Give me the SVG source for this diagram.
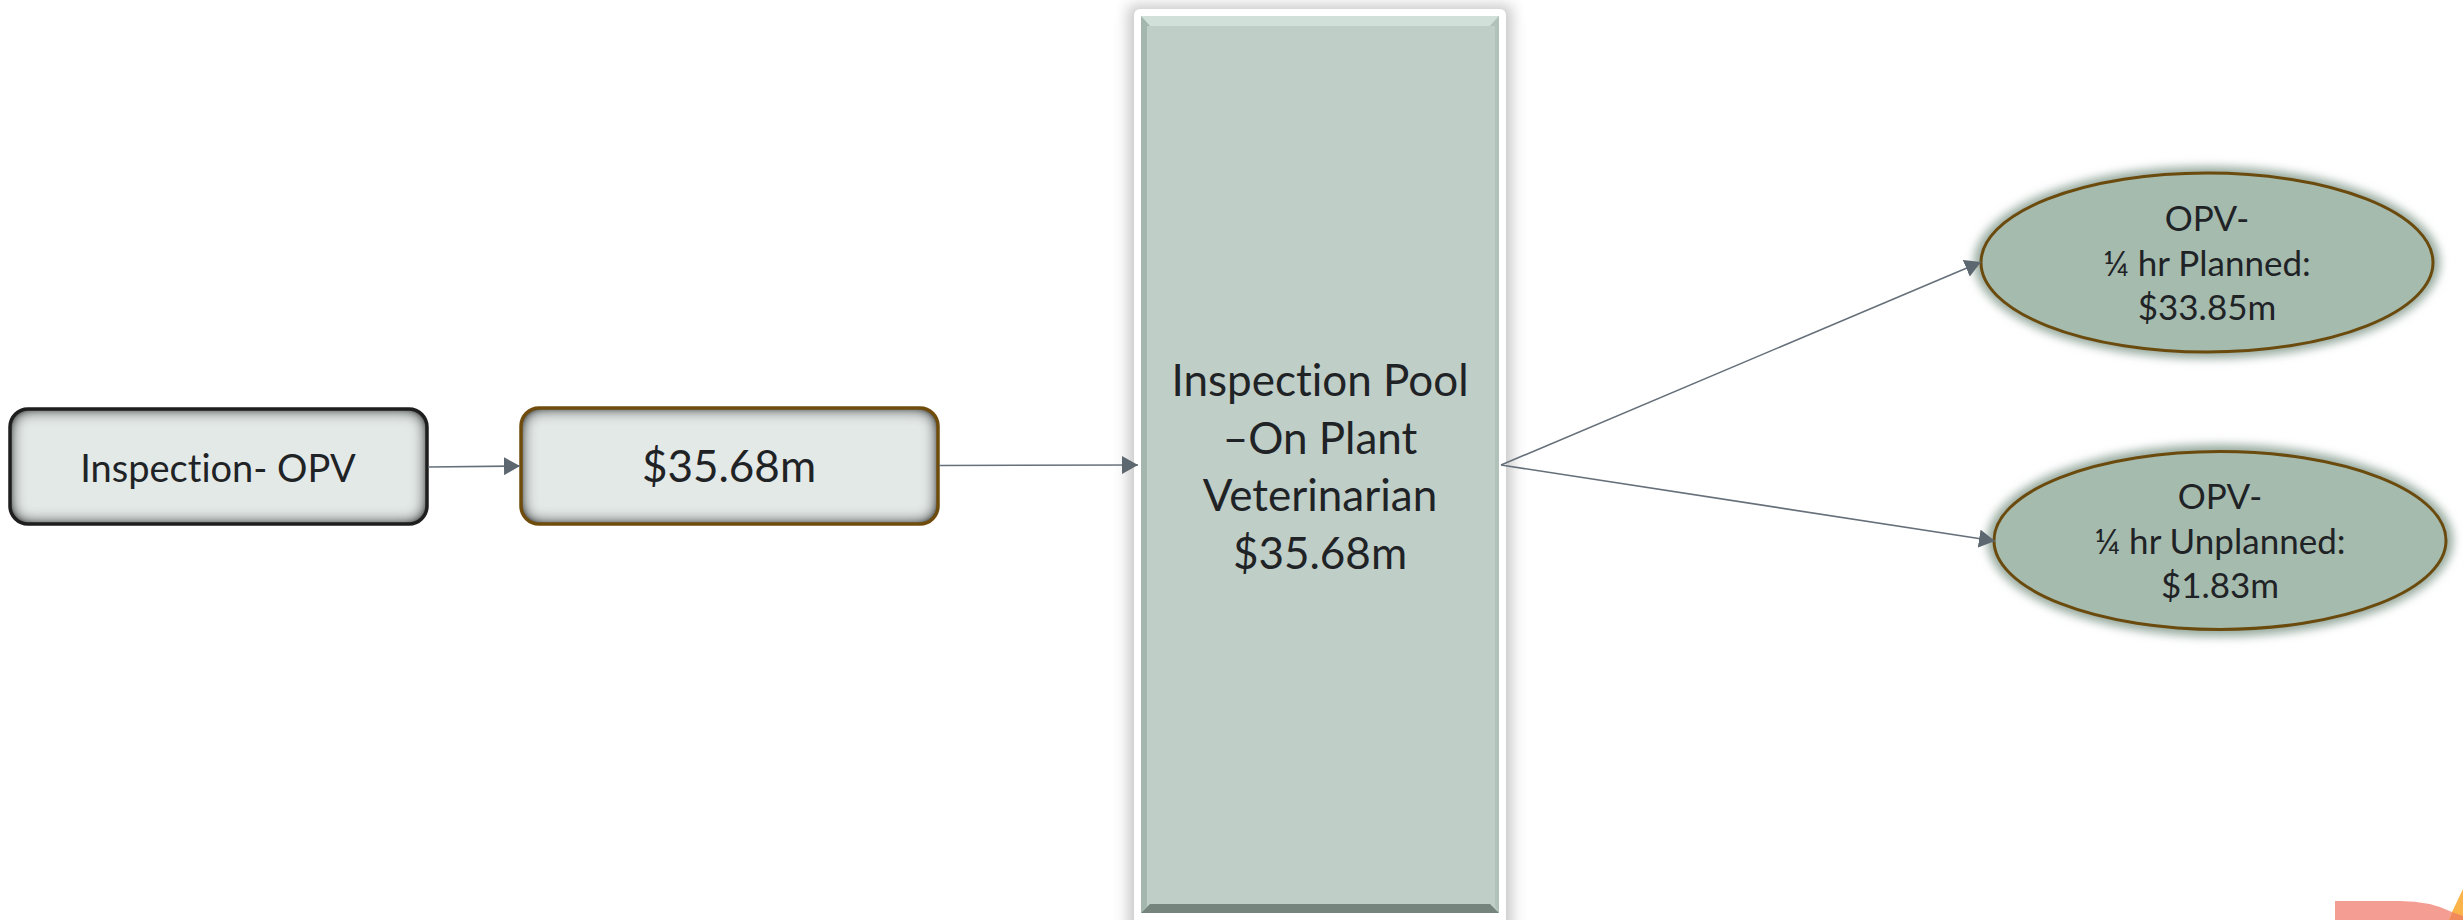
<svg xmlns="http://www.w3.org/2000/svg" width="2463" height="920" viewBox="0 0 2463 920">
<defs>
<style>
text{font-family:Lato,"Liberation Sans",sans-serif;fill:#1f2326;text-anchor:middle;font-variant-ligatures:none}
.conn{fill:none;stroke:#66707a;stroke-width:1.6;marker-end:url(#arrow)}
.box{fill:#e3e9e7;stroke-width:3.5}
.oval{fill:#a5bbae;stroke:#6b4a0d;stroke-width:3}
</style>
<marker id="arrow" markerUnits="userSpaceOnUse" markerWidth="17" markerHeight="18" refX="16" refY="9" orient="auto"><path d="M0 0 L16 9 L0 18 Z" fill="#5d6770"/></marker>
<filter id="inner" x="-5%" y="-5%" width="110%" height="110%">
<feGaussianBlur in="SourceAlpha" stdDeviation="8" result="b"/>
<feComposite in="SourceAlpha" in2="b" operator="out" result="edge"/>
<feFlood flood-color="#3b403f" flood-opacity="1"/>
<feComposite in2="edge" operator="in" result="s0"/>
<feComponentTransfer in="s0" result="s"><feFuncA type="linear" slope="1.8"/></feComponentTransfer>
<feMerge><feMergeNode in="SourceGraphic"/><feMergeNode in="s"/></feMerge>
</filter>
<filter id="glow" x="-10%" y="-15%" width="120%" height="130%"><feGaussianBlur stdDeviation="5"/></filter>
<filter id="shadow" x="-10%" y="-5%" width="120%" height="110%"><feGaussianBlur stdDeviation="7"/></filter>
</defs>
<rect width="2463" height="920" fill="#fff"/>
<g id="node-inspection-opv">
<rect class="box" x="10" y="409" width="417" height="115" rx="18" filter="url(#inner)"/>
<rect x="10" y="409" width="417" height="115" rx="18" fill="none" stroke="#1e1e1e" stroke-width="3.500"/>
<text x="218" y="482" font-size="38">Inspection- OPV</text>
</g>
<g id="node-amount">
<rect class="box" x="521" y="408" width="417" height="116" rx="18" filter="url(#inner)"/>
<rect x="521" y="408" width="417" height="116" rx="18" fill="none" stroke="#6f4c0c" stroke-width="3.500"/>
<text x="729" y="482" font-size="44">$35.68m</text>
</g>
<g id="node-pool">
<rect x="1128" y="5" width="384" height="940" rx="6" fill="#555" opacity=".32" filter="url(#shadow)"/>
<rect x="1134" y="9" width="372" height="930" rx="6" fill="#fff"/>
<rect x="1141" y="16" width="358" height="897" fill="#bfcec7"/>
<polygon points="1141,16 1499,16 1490,26 1150,26" fill="#d1e0d9"/>
<polygon points="1141,16 1150,26 1147,26 1147,906 1141,913" fill="#a3b7ae"/>
<polygon points="1499,16 1490,26 1495,26 1495,906 1499,913" fill="#b0c2ba"/>
<polygon points="1141,913 1150,904 1490,904 1499,913" fill="#75857e"/>
<text font-size="44"><tspan x="1320" y="396">Inspection Pool</tspan><tspan x="1320" y="454">–On Plant</tspan><tspan x="1320" y="511">Veterinarian</tspan><tspan x="1320" y="569">$35.68m</tspan></text>
</g>
<g id="node-planned">
<ellipse cx="2207" cy="262.500" rx="233" ry="96" fill="#96aa9f" filter="url(#glow)"/>
<ellipse class="oval" cx="2207" cy="262.500" rx="226" ry="89.500"/>
<text font-size="35"><tspan x="2207" y="231">OPV-</tspan><tspan x="2207" y="276">¼ hr Planned:</tspan><tspan x="2207" y="320">$33.85m</tspan></text>
</g>
<g id="node-unplanned">
<ellipse cx="2220" cy="540.500" rx="233" ry="96" fill="#96aa9f" filter="url(#glow)"/>
<ellipse class="oval" cx="2220" cy="540.500" rx="226" ry="89"/>
<text font-size="35"><tspan x="2220" y="509">OPV-</tspan><tspan x="2220" y="554">¼ hr Unplanned:</tspan><tspan x="2220" y="598">$1.83m</tspan></text>
</g>
<g id="corner-mark">
<path d="M2335 901 H2400 Q2430 901 2452 912 L2449 920 H2335 Z" fill="#f49d93"/>
<path d="M2463 889 L2463 920 H2449 L2452 912 Z" fill="#fbb44a"/>
<path d="M2452 912 L2463 916 V920 H2449 Z" fill="#f08a5c"/>
</g>
<g id="connectors">
<line class="conn" x1="428" y1="467" x2="520" y2="466"/>
<line class="conn" x1="939" y1="465.500" x2="1138" y2="465"/>
<line class="conn" x1="1501" y1="465" x2="1981" y2="262"/>
<line class="conn" x1="1501" y1="465" x2="1995" y2="541"/>
</g>
</svg>
